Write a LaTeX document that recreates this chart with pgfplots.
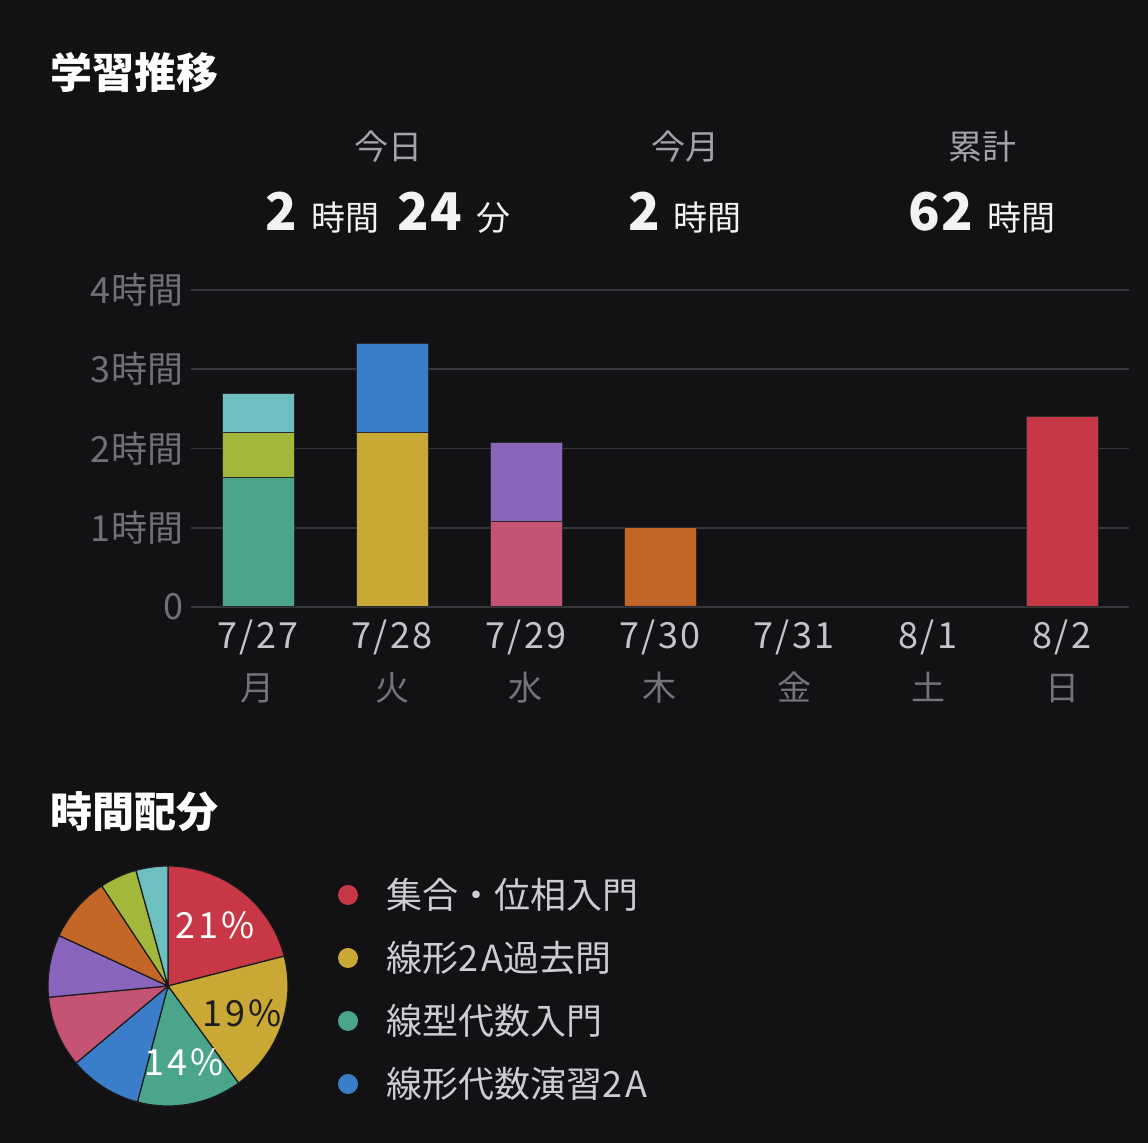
\documentclass[border=0pt]{standalone}
\usepackage{fontspec}
\setmainfont{Noto Sans CJK JP}
\usepackage{pgfplots}
\pgfplotsset{compat=1.18}

\definecolor{bg}{HTML}{121214}
\definecolor{gridc}{HTML}{36363B}
\definecolor{ytc}{HTML}{707176}
\definecolor{datec}{HTML}{C4C4C8}
\definecolor{wdc}{HTML}{737479}
\definecolor{hdrc}{HTML}{A3A3A8}
\definecolor{valc}{HTML}{F2F2F4}
\definecolor{legc}{HTML}{CDCDD1}
\definecolor{barline}{HTML}{2A2A2E}
\definecolor{pieline}{HTML}{1A1A1C}
\definecolor{cred}{HTML}{C83746}
\definecolor{cyellow}{HTML}{CAA836}
\definecolor{cgreen}{HTML}{4BA58B}
\definecolor{cblue}{HTML}{3A7DC9}
\definecolor{cpink}{HTML}{C55474}
\definecolor{cpurple}{HTML}{8966BC}
\definecolor{corange}{HTML}{C36628}
\definecolor{colive}{HTML}{A1B83B}
\definecolor{cteal}{HTML}{6DBFC0}

\newcommand\slice[3]{\draw[fill=#1, draw=pieline, line width=0.6pt] (axis cs:0,0) -- ++({90-3.6*#2}:60pt) arc[start angle={90-3.6*#2}, end angle={90-3.6*#3}, radius=60pt] -- cycle;}
\newcommand\dl[2]{{\fontsize{18}{26}\selectfont\addfontfeature{LetterSpace=6}\color{datec}#1}\\{\fontsize{17}{26}\selectfont\color{wdc}#2}}
\newcommand\lat[1]{{\addfontfeature{LetterSpace=8}#1}}

\begin{document}
\begin{tikzpicture}[x=0.5pt,y=0.5pt]
\fill[bg] (0,0) rectangle (1148,1143);

% titles
\node[anchor=west, inner sep=0, text=white, font=\fontsize{21}{25}\selectfont\bfseries] at (50,1070) {学習推移};
\node[anchor=west, inner sep=0, text=white, font=\fontsize{21}{25}\selectfont\bfseries] at (50,331) {時間配分};

% header stats
\node[text=hdrc, font=\fontsize{17}{20}\selectfont] at (388,996) {今日};
\node[text=hdrc, font=\fontsize{17}{20}\selectfont] at (685,996) {今月};
\node[text=hdrc, font=\fontsize{17}{20}\selectfont] at (982,996) {累計};
\node[text=valc] at (388,930) {{\fontsize{26}{30}\selectfont\bfseries 2}\hspace{7pt}{\fontsize{17}{20}\selectfont 時間}\hspace{9pt}{\fontsize{26}{30}\selectfont\bfseries\addfontfeature{LetterSpace=3}24}\hspace{7pt}{\fontsize{17}{20}\selectfont 分}};
\node[text=valc] at (685,930) {{\fontsize{26}{30}\selectfont\bfseries 2}\hspace{7pt}{\fontsize{17}{20}\selectfont 時間}};
\node[text=valc] at (982,930) {{\fontsize{26}{30}\selectfont\bfseries\addfontfeature{LetterSpace=3}62}\hspace{7pt}{\fontsize{17}{20}\selectfont 時間}};

% bar chart
\begin{axis}[
  at={(95.5pt,268pt)}, anchor=south west,
  scale only axis, width=469pt, height=158.5pt,
  xmin=-0.5, xmax=6.5, ymin=0, ymax=4,
  ybar stacked, bar width=36pt,
  axis line style={draw=none},
  major tick length=0pt,
  ytick={0,1,2,3,4}, yticklabels={0,1時間,2時間,3時間,4時間},
  ymajorgrids, grid style={gridc, line width=0.8pt},
  xtick={0,1,2,3,4,5,6},
  xticklabels={
    {\dl{7/27}{月}},
    {\dl{7/28}{火}},
    {\dl{7/29}{水}},
    {\dl{7/30}{木}},
    {\dl{7/31}{金}},
    {\dl{8/1}{土}},
    {\dl{8/2}{日}}},
  xticklabel style={align=center, font=\fontsize{17}{26}\selectfont, yshift=-3pt},
  yticklabel style={font=\fontsize{18}{20}\selectfont\addfontfeature{LetterSpace=2}, text=ytc},
  clip=false,
  every axis plot/.append style={draw=barline, line width=0.5pt},
]
\addplot[fill=cgreen]  coordinates {(0,1.64) (1,0) (2,0) (3,0) (4,0) (5,0) (6,0)};
\addplot[fill=colive]  coordinates {(0,0.56) (1,0) (2,0) (3,0) (4,0) (5,0) (6,0)};
\addplot[fill=cteal]   coordinates {(0,0.49) (1,0) (2,0) (3,0) (4,0) (5,0) (6,0)};
\addplot[fill=cyellow] coordinates {(0,0) (1,2.2) (2,0) (3,0) (4,0) (5,0) (6,0)};
\addplot[fill=cblue]   coordinates {(0,0) (1,1.13) (2,0) (3,0) (4,0) (5,0) (6,0)};
\addplot[fill=cpink]   coordinates {(0,0) (1,0) (2,1.08) (3,0) (4,0) (5,0) (6,0)};
\addplot[fill=cpurple] coordinates {(0,0) (1,0) (2,1.0) (3,0) (4,0) (5,0) (6,0)};
\addplot[fill=corange] coordinates {(0,0) (1,0) (2,0) (3,1.0) (4,0) (5,0) (6,0)};
\addplot[fill=cred]    coordinates {(0,0) (1,0) (2,0) (3,0) (4,0) (5,0) (6,2.4)};
\end{axis}

% pie chart (cumulative percentages: start, end)
\begin{axis}[
  at={(84pt,78.5pt)}, anchor=center,
  scale only axis, width=120pt, height=120pt,
  xmin=-1, xmax=1, ymin=-1, ymax=1,
  hide axis, clip=false,
]
\slice{cred}{0}{21}
\slice{cyellow}{21}{40}
\slice{cgreen}{40}{54.1}
\slice{cblue}{54.1}{63.9}
\slice{cpink}{63.9}{73.5}
\slice{cpurple}{73.5}{81.9}
\slice{corange}{81.9}{90.7}
\slice{colive}{90.7}{95.7}
\slice{cteal}{95.7}{100}
\end{axis}

\node[text=white, font=\fontsize{18}{20}\selectfont\addfontfeature{LetterSpace=8}] at (215,218) {21\%};
\node[text={rgb,255:red,30;green,30;blue,30}, font=\fontsize{18}{20}\selectfont\addfontfeature{LetterSpace=8}] at (242,130) {19\%};
\node[text=white, font=\fontsize{18}{20}\selectfont\addfontfeature{LetterSpace=8}] at (184,81) {14\%};

% legend
\fill[cred] (348,248) circle (10);
\fill[cyellow] (348,185) circle (10);
\fill[cgreen] (348,122) circle (10);
\fill[cblue] (348,59) circle (10);
\node[anchor=west, inner sep=0, text=legc, font=\fontsize{18}{20}\selectfont] at (386,248) {集合・位相入門};
\node[anchor=west, inner sep=0, text=legc, font=\fontsize{18}{20}\selectfont] at (386,185) {線形\lat{2A}過去問};
\node[anchor=west, inner sep=0, text=legc, font=\fontsize{18}{20}\selectfont] at (386,122) {線型代数入門};
\node[anchor=west, inner sep=0, text=legc, font=\fontsize{18}{20}\selectfont] at (386,59) {線形代数演習\lat{2A}};
\end{tikzpicture}
\end{document}
